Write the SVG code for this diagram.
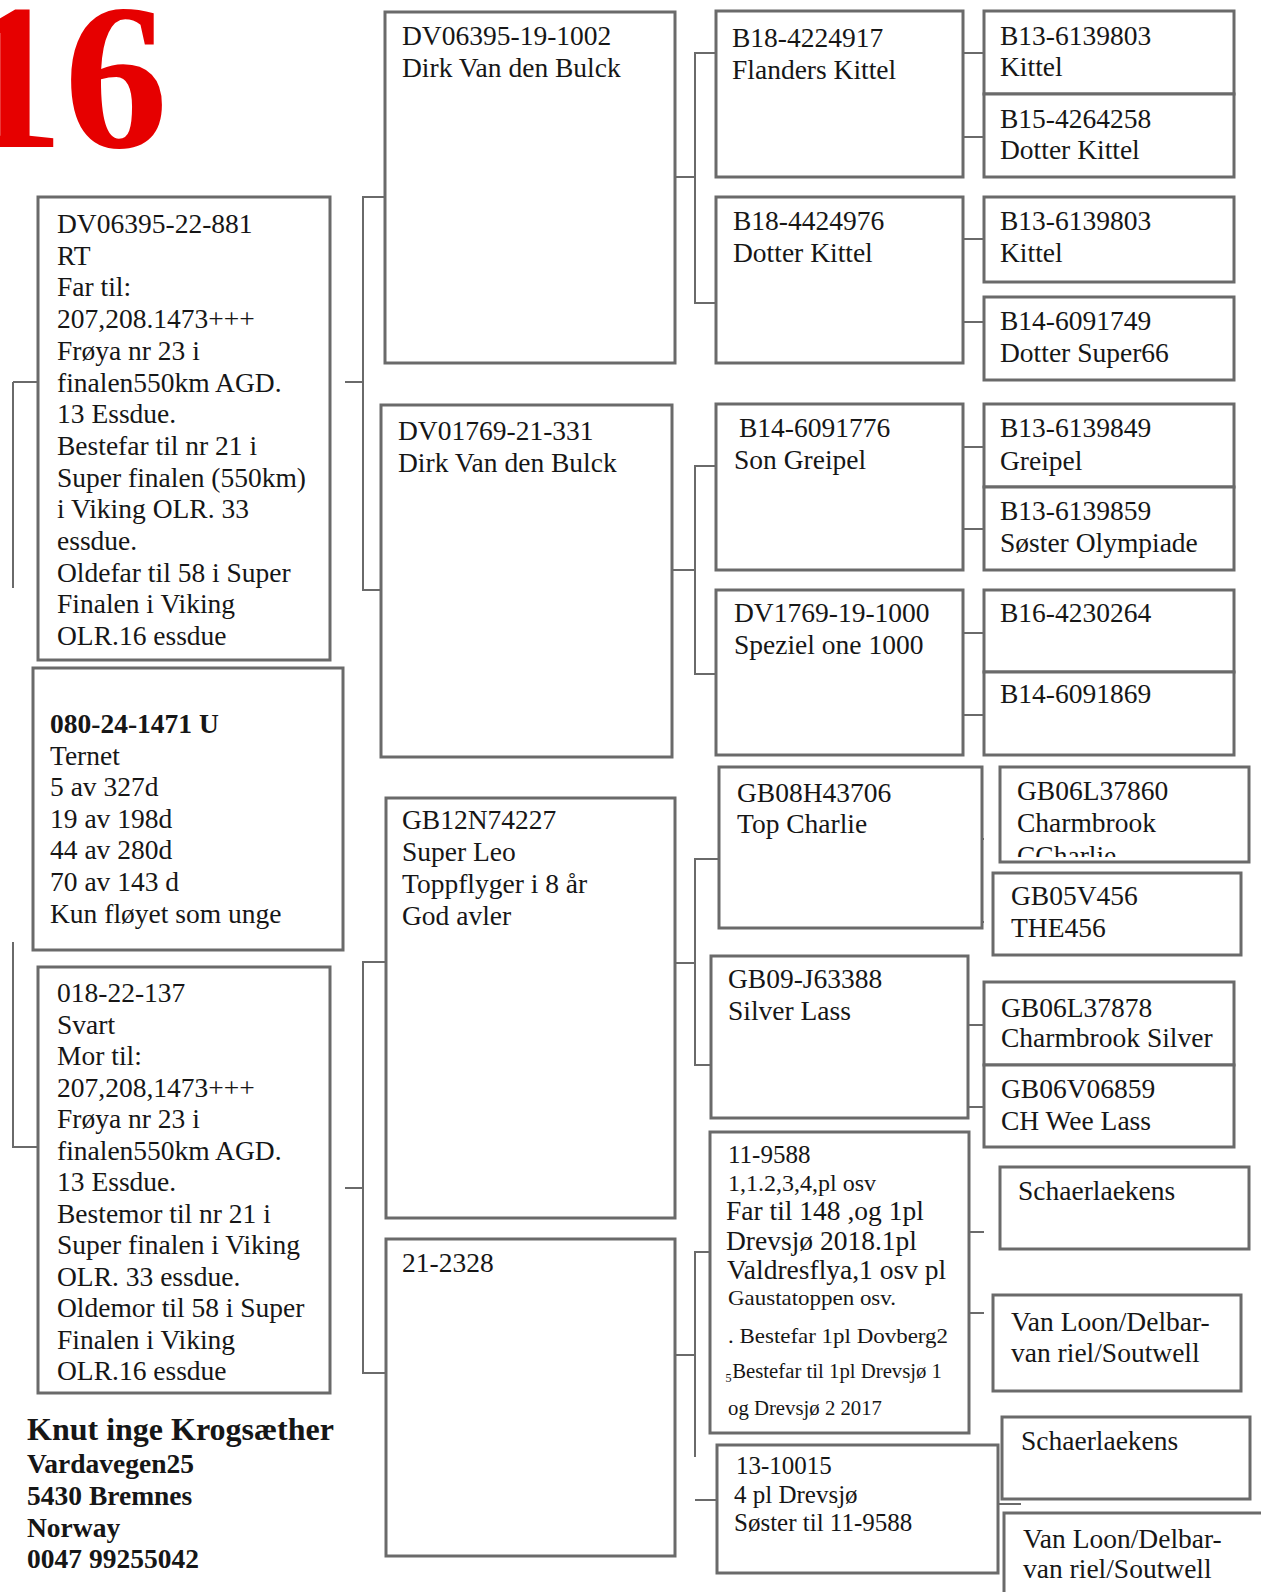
<svg xmlns="http://www.w3.org/2000/svg" width="1261" height="1592" viewBox="0 0 1261 1592">
<style>
.b{fill:#fff;stroke:#6a6a6a;stroke-width:3}
.c{fill:none;stroke:#6a6a6a;stroke-width:2}
text{font-family:"Liberation Serif","Times New Roman",serif;font-size:27.5px;fill:#161616}
.bd{font-weight:bold}
</style>
<defs>
<clipPath id="clipQ9"><rect x="1000" y="767" width="249" height="90"/></clipPath>
</defs>
<rect width="1261" height="1592" fill="#fff"/>
<text x="-40" y="147" style="font-size:208px;font-weight:bold;fill:#e60000">16</text>

<g id="connectors">
<path class="c" d="M13,382 H57 M13,382 V588 M38,1147 H13 V942"/>
<path class="c" d="M345,382 H363 M385,197 H363 V590 H381 M345,1188 H363 M386,962 H363 V1373 H386"/>
<path class="c" d="M675,177 H695 M716,53 H695 V303 H716 M672,570 H695 M716,466 H695 V674 H716 M675,963 H695 M719,859 H695 V1065 H711 M675,1355 H695 M710,1252 H695 V1457 M695,1500 H717"/>
<path class="c" d="M963,53 H984 M963,137 H984 M963,239 H984 M963,322 H984 M963,447 H984 M963,529 H984 M963,633 H984 M963,715 H984 M964,839 H984 M964,922 H984 M964,1025 H984 M964,1107 H984 M964,1232 H984 M964,1313 H984 M998,1504 H1021"/>
</g>

<g id="boxA">
<rect class="b" x="38" y="197" width="292" height="463"/>
<text x="57" y="233"><tspan x="57">DV06395-22-881</tspan><tspan x="57" dy="31.7">RT</tspan><tspan x="57" dy="31.7">Far til:</tspan><tspan x="57" dy="31.7">207,208.1473+++</tspan><tspan x="57" dy="31.7">Frøya nr 23 i</tspan><tspan x="57" dy="31.7">finalen550km AGD.</tspan><tspan x="57" dy="31.7">13 Essdue.</tspan><tspan x="57" dy="31.7">Bestefar til nr 21 i</tspan><tspan x="57" dy="31.7">Super finalen (550km)</tspan><tspan x="57" dy="31.7">i Viking OLR. 33</tspan><tspan x="57" dy="31.7">essdue.</tspan><tspan x="57" dy="31.7">Oldefar til 58 i Super</tspan><tspan x="57" dy="31.7">Finalen i Viking</tspan><tspan x="57" dy="31.7">OLR.16 essdue</tspan></text>
</g>

<g id="boxB">
<rect class="b" x="33" y="668" width="310" height="282"/>
<text x="50" y="733"><tspan x="50" class="bd">080-24-1471 U</tspan><tspan x="50" dy="31.6">Ternet</tspan><tspan x="50" dy="31.6">5 av 327d</tspan><tspan x="50" dy="31.6">19 av 198d</tspan><tspan x="50" dy="31.6">44 av 280d</tspan><tspan x="50" dy="31.6">70 av 143 d</tspan><tspan x="50" dy="31.6">Kun fløyet som unge</tspan></text>
</g>

<g id="boxC">
<rect class="b" x="38" y="967" width="292" height="426"/>
<text x="57" y="1002"><tspan x="57">018-22-137</tspan><tspan x="57" dy="31.5">Svart</tspan><tspan x="57" dy="31.5">Mor til:</tspan><tspan x="57" dy="31.5">207,208,1473+++</tspan><tspan x="57" dy="31.5">Frøya nr 23 i</tspan><tspan x="57" dy="31.5">finalen550km AGD.</tspan><tspan x="57" dy="31.5">13 Essdue.</tspan><tspan x="57" dy="31.5">Bestemor til nr 21 i</tspan><tspan x="57" dy="31.5">Super finalen i Viking</tspan><tspan x="57" dy="31.5">OLR. 33 essdue.</tspan><tspan x="57" dy="31.5">Oldemor til 58 i Super</tspan><tspan x="57" dy="31.5">Finalen i Viking</tspan><tspan x="57" dy="31.5">OLR.16 essdue</tspan></text>
</g>

<g id="address">
<text x="27" y="1440" class="bd" style="font-size:32px">Knut inge Krogsæther</text>
<text x="27" y="1473" class="bd">Vardavegen25</text>
<text x="27" y="1505" class="bd">5430 Bremnes</text>
<text x="27" y="1537" class="bd">Norway</text>
<text x="27" y="1568" class="bd">0047 99255042</text>
</g>

<g id="n1">
<rect class="b" x="385" y="12" width="290" height="351"/>
<text x="402" y="45"><tspan x="402">DV06395-19-1002</tspan><tspan x="402" dy="31.5">Dirk Van den Bulck</tspan></text>
</g>
<g id="n2">
<rect class="b" x="381" y="405" width="291" height="352"/>
<text x="398" y="440"><tspan x="398">DV01769-21-331</tspan><tspan x="398" dy="31.5">Dirk Van den Bulck</tspan></text>
</g>
<g id="n3">
<rect class="b" x="386" y="798" width="289" height="420"/>
<text x="402" y="829"><tspan x="402">GB12N74227</tspan><tspan x="402" dy="32">Super Leo</tspan><tspan x="402" dy="32">Toppflyger i 8 år</tspan><tspan x="402" dy="32">God avler</tspan></text>
</g>
<g id="n4">
<rect class="b" x="386" y="1239" width="289" height="317"/>
<text x="402" y="1272">21-2328</text>
</g>

<g id="p1">
<rect class="b" x="716" y="11" width="247" height="166"/>
<text x="732" y="47"><tspan x="732">B18-4224917</tspan><tspan x="732" dy="31.5">Flanders Kittel</tspan></text>
</g>
<g id="p2">
<rect class="b" x="716" y="197" width="247" height="166"/>
<text x="733" y="230"><tspan x="733">B18-4424976</tspan><tspan x="733" dy="31.5">Dotter Kittel</tspan></text>
</g>
<g id="p3">
<rect class="b" x="716" y="404" width="247" height="166"/>
<text x="739" y="437"><tspan x="739">B14-6091776</tspan><tspan x="734" dy="32">Son Greipel</tspan></text>
</g>
<g id="p4">
<rect class="b" x="716" y="590" width="247" height="165"/>
<text x="734" y="622"><tspan x="734">DV1769-19-1000</tspan><tspan x="734" dy="31.5">Speziel one 1000</tspan></text>
</g>
<g id="p5">
<rect class="b" x="719" y="767" width="263" height="161"/>
<text x="737" y="802"><tspan x="737">GB08H43706</tspan><tspan x="737" dy="31">Top Charlie</tspan></text>
</g>
<g id="p6">
<rect class="b" x="711" y="956" width="257" height="162"/>
<text x="728" y="988"><tspan x="728">GB09-J63388</tspan><tspan x="728" dy="32">Silver Lass</tspan></text>
</g>
<g id="p7">
<rect class="b" x="710" y="1132" width="259" height="301"/>
<text x="728" y="1163" style="font-size:25px">11-9588</text>
<text x="728" y="1191" style="font-size:24px">1,1.2,3,4,pl osv</text>
<text x="726" y="1220">Far til 148 ,og 1pl</text>
<text x="726" y="1250">Drevsjø 2018.1pl</text>
<text x="727" y="1279">Valdresflya,1 osv pl</text>
<text x="728" y="1305" style="font-size:22px" textLength="168" lengthAdjust="spacingAndGlyphs">Gaustatoppen osv.</text>
<text x="728" y="1343" style="font-size:22px" textLength="220" lengthAdjust="spacingAndGlyphs">. Bestefar  1pl Dovberg2</text>
<text x="725" y="1378" style="font-size:20px" textLength="217" lengthAdjust="spacingAndGlyphs">₅Bestefar til 1pl Drevsjø 1</text>
<text x="728" y="1415" style="font-size:20px" textLength="154" lengthAdjust="spacingAndGlyphs">og Drevsjø 2 2017</text>
</g>
<g id="p8">
<rect class="b" x="717" y="1445" width="281" height="128"/>
<text x="736" y="1474" style="font-size:25px"><tspan x="736">13-10015</tspan><tspan x="734" dy="29">4 pl Drevsjø</tspan><tspan x="734" dy="28">Søster til 11-9588</tspan></text>
</g>

<g id="q1">
<rect class="b" x="984" y="11" width="250" height="83"/>
<text x="1000" y="45"><tspan x="1000">B13-6139803</tspan><tspan x="1000" dy="31">Kittel</tspan></text>
</g>
<g id="q2">
<rect class="b" x="984" y="94" width="250" height="83"/>
<text x="1000" y="128"><tspan x="1000">B15-4264258</tspan><tspan x="1000" dy="31">Dotter Kittel</tspan></text>
</g>
<g id="q3">
<rect class="b" x="984" y="197" width="250" height="85"/>
<text x="1000" y="230"><tspan x="1000">B13-6139803</tspan><tspan x="1000" dy="32">Kittel</tspan></text>
</g>
<g id="q4">
<rect class="b" x="984" y="297" width="250" height="83"/>
<text x="1000" y="330"><tspan x="1000">B14-6091749</tspan><tspan x="1000" dy="32">Dotter Super66</tspan></text>
</g>
<g id="q5">
<rect class="b" x="984" y="404" width="250" height="83"/>
<text x="1000" y="437"><tspan x="1000">B13-6139849</tspan><tspan x="1000" dy="33">Greipel</tspan></text>
</g>
<g id="q6">
<rect class="b" x="984" y="487" width="250" height="83"/>
<text x="1000" y="520"><tspan x="1000">B13-6139859</tspan><tspan x="1000" dy="32">Søster Olympiade</tspan></text>
</g>
<g id="q7">
<rect class="b" x="984" y="590" width="250" height="82"/>
<text x="1000" y="622">B16-4230264</text>
</g>
<g id="q8">
<rect class="b" x="984" y="672" width="250" height="83"/>
<text x="1000" y="703">B14-6091869</text>
</g>
<g id="q9">
<rect class="b" x="1000" y="767" width="249" height="95"/>
<text x="1017" y="800"><tspan x="1017">GB06L37860</tspan><tspan x="1017" dy="32">Charmbrook</tspan></text>
<text x="1017" y="865" clip-path="url(#clipQ9)">CCharlie</text>
</g>
<g id="q10">
<rect class="b" x="993" y="873" width="248" height="82"/>
<text x="1011" y="905"><tspan x="1011">GB05V456</tspan><tspan x="1011" dy="32">THE456</tspan></text>
</g>
<g id="q11">
<rect class="b" x="984" y="982" width="250" height="83"/>
<text x="1001" y="1017"><tspan x="1001">GB06L37878</tspan><tspan x="1001" dy="30">Charmbrook Silver</tspan></text>
</g>
<g id="q12">
<rect class="b" x="984" y="1065" width="250" height="82"/>
<text x="1001" y="1098"><tspan x="1001">GB06V06859</tspan><tspan x="1001" dy="32">CH Wee Lass</tspan></text>
</g>
<g id="q13">
<rect class="b" x="1000" y="1167" width="249" height="82"/>
<text x="1018" y="1200">Schaerlaekens</text>
</g>
<g id="q14">
<rect class="b" x="993" y="1295" width="248" height="96"/>
<text x="1011" y="1331"><tspan x="1011">Van Loon/Delbar-</tspan><tspan x="1011" dy="31">van riel/Soutwell</tspan></text>
</g>
<g id="q15">
<rect class="b" x="1002" y="1417" width="248" height="82"/>
<text x="1021" y="1450">Schaerlaekens</text>
</g>
<g id="q16">
<rect class="b" x="1004" y="1513" width="300" height="100"/>
<text x="1023" y="1548"><tspan x="1023">Van Loon/Delbar-</tspan><tspan x="1023" dy="30">van riel/Soutwell</tspan></text>
</g>
</svg>
